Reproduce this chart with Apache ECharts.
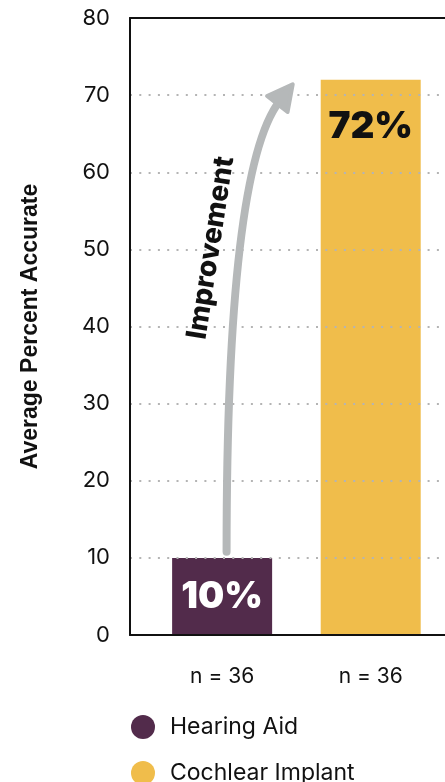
<!DOCTYPE html>
<html>
<head>
<meta charset="utf-8">
<script src="https://cdn.jsdelivr.net/npm/echarts@6/dist/echarts.min.js"></script>
<style>
  html, body { margin: 0; padding: 0; background: #ffffff; }
  #chart { width: 445px; height: 782px; }
</style>
</head>
<body>
<div id="chart"></div>
<script>
// ---- data ----
const categories = ['n = 36', 'n = 36'];
const seriesNames = ['Hearing Aid', 'Cochlear Implant'];
const hearingAid = [10, null];
const cochlearImplant = [null, 72];
const yTickValues = [0, 10, 20, 30, 40, 50, 60, 70, 80];
const yTitle = 'Average Percent Accurate';
const annotationText = 'Improvement';

// ---- styling ----
const FONT = 'Inter';
const colors = ['#522b4b', '#f0bd4b'];
const arrowColor = '#b5b8b9';

// category i sits at x = i + 1 on the value axis
const toPoints = arr => arr
  .map((v, i) => (v == null ? null : [i + 1, v]))
  .filter(p => p !== null);

const chart = echarts.init(document.getElementById('chart'), null, { renderer: 'canvas' });

const xMin = 0.38, xMax = 2.50;

const option = {
  animation: false,
  backgroundColor: '#ffffff',
  textStyle: { fontFamily: FONT },
  grid: { left: 130, right: 0, top: 18, bottom: 147, containLabel: false },
  legend: {
    orient: 'vertical',
    left: 131,
    top: 715,
    height: 100,
    padding: 0,
    itemWidth: 24,
    itemHeight: 24,
    itemGap: 22,
    icon: 'circle',
    data: seriesNames,
    textStyle: { fontFamily: FONT, fontSize: 23, color: '#111111', padding: [0, 0, 0, 10] },
    selectedMode: false
  },
  xAxis: [
    {
      type: 'value',
      position: 'bottom',
      min: xMin,
      max: xMax,
      z: 5,
      axisLine: { show: true, lineStyle: { color: '#111111', width: 2 } },
      axisTick: { show: false },
      splitLine: { show: false },
      axisLabel: {
        customValues: categories.map((c, i) => i + 1),
        formatter: v => categories[Math.round(v) - 1] || '',
        fontFamily: FONT,
        fontSize: 21,
        color: '#111111',
        margin: 31
      }
    },
    {
      type: 'value',
      position: 'top',
      min: xMin,
      max: xMax,
      z: 5,
      axisLine: { show: true, lineStyle: { color: '#111111', width: 2 } },
      axisTick: { show: false },
      splitLine: { show: false },
      axisLabel: { show: false }
    }
  ],
  yAxis: {
    type: 'value',
    min: yTickValues[0],
    max: yTickValues[yTickValues.length - 1],
    interval: yTickValues[1] - yTickValues[0],
    z: 5,
    name: yTitle,
    nameLocation: 'middle',
    nameRotate: 90,
    nameGap: 88,
    nameTextStyle: { fontFamily: 'Liberation Sans', fontSize: 23, fontWeight: 700, color: '#111111' },
    axisLine: { show: true, lineStyle: { color: '#111111', width: 2 } },
    axisTick: { show: false },
    axisLabel: { fontFamily: FONT, fontSize: 22, color: '#111111', margin: 20, padding: [8, 0, 0, 0] },
    splitLine: {
      show: true,
      lineStyle: { color: '#b4b4b4', width: 2, type: [2, 7.3] }
    }
  },
  series: [
    {
      name: seriesNames[0],
      type: 'bar',
      xAxisIndex: 0,
      data: toPoints(hearingAid),
      barWidth: 100,
      barGap: '-100%',
      itemStyle: { color: colors[0] },
      label: {
        show: true,
        position: 'inside',
        formatter: p => p.value[1] + '%',
        fontFamily: FONT,
        fontSize: 37,
        fontWeight: 900,
        color: '#ffffff'
      }
    },
    {
      name: seriesNames[1],
      type: 'bar',
      xAxisIndex: 0,
      data: toPoints(cochlearImplant),
      barWidth: 100,
      barGap: '-100%',
      itemStyle: { color: colors[1] },
      label: {
        show: true,
        position: 'insideTop',
        distance: 29,
        formatter: p => p.value[1] + '%',
        fontFamily: FONT,
        fontSize: 37,
        fontWeight: 900,
        color: '#111111'
      }
    }
  ]
};

chart.setOption(option);

// ---- "Improvement" arrow annotation, anchored in data space ----
const px = pt => chart.convertToPixel({ xAxisIndex: 0, yAxisIndex: 0 }, pt);
const p0 = px([1.03, 10.8]);     // tail, just above the hearing-aid bar
const tip = px([1.475, 71.4]);   // head tip, near the cochlear-implant level
const textAt = px([0.925, 50.2]);

const ang = 38 * Math.PI / 180;          // head direction, from vertical
const d = [Math.sin(ang), -Math.cos(ang)];
const nrm = [Math.cos(ang), Math.sin(ang)];
const headLen = 25, headHalf = 13;
const base = [tip[0] - d[0] * headLen, tip[1] - d[1] * headLen];
const bodyEnd = [base[0] + d[0] * 4, base[1] + d[1] * 4];
const cp1 = [p0[0], p0[1] - 200];
const cp2 = [base[0] - d[0] * 65, base[1] - d[1] * 65];

chart.setOption({
  graphic: [
    {
      type: 'bezierCurve',
      z: 10,
      shape: {
        x1: p0[0], y1: p0[1],
        cpx1: cp1[0], cpy1: cp1[1],
        cpx2: cp2[0], cpy2: cp2[1],
        x2: bodyEnd[0], y2: bodyEnd[1]
      },
      style: { stroke: arrowColor, lineWidth: 8, fill: null, lineCap: 'round' }
    },
    {
      type: 'polygon',
      z: 10,
      shape: {
        points: [
          tip,
          [base[0] + nrm[0] * headHalf, base[1] + nrm[1] * headHalf],
          [base[0] - nrm[0] * headHalf, base[1] - nrm[1] * headHalf]
        ]
      },
      style: { fill: arrowColor, stroke: arrowColor, lineWidth: 4, lineJoin: 'round' }
    },
    {
      type: 'text',
      z: 11,
      x: textAt[0],
      y: textAt[1],
      rotation: 81.2 * Math.PI / 180,
      style: {
        text: annotationText,
        font: '800 28px Inter',
        fill: '#111111',
        align: 'center',
        verticalAlign: 'middle'
      }
    }
  ]
});
</script>
</body>
</html>
